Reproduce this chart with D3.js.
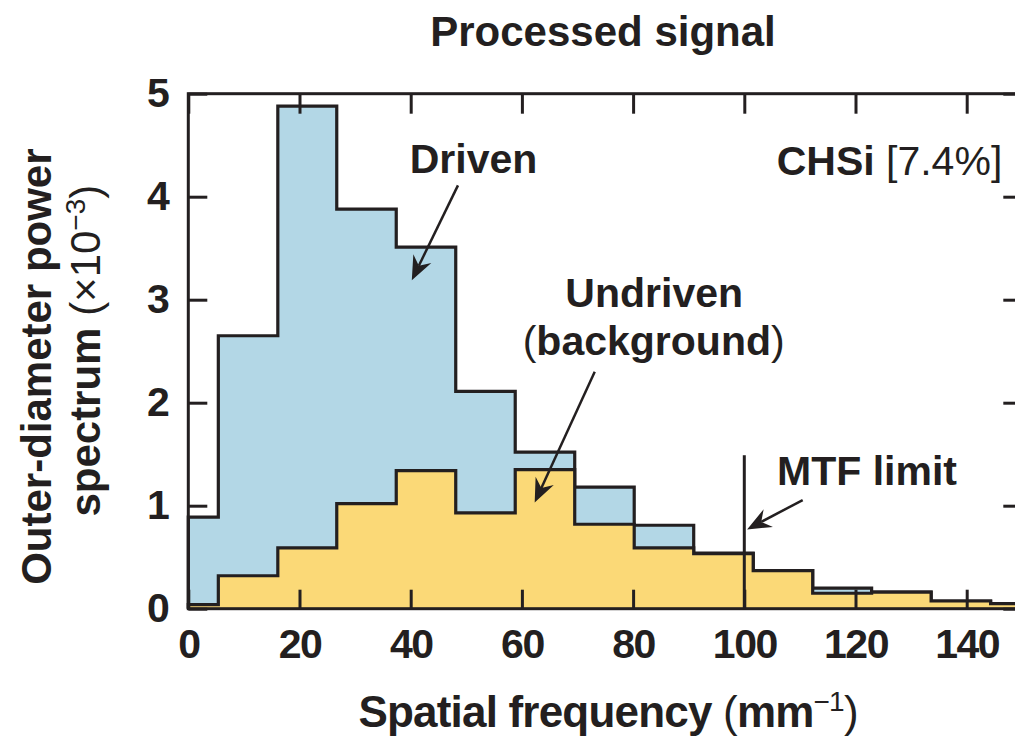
<!DOCTYPE html>
<html>
<head>
<meta charset="utf-8">
<script src="https://cdn.jsdelivr.net/npm/d3@7"></script>
<style>
  body { margin: 0; background: #fff; }
  svg { display: block; }
  text { fill: #231f20; }
</style>
</head>
<body>
<div class="chart"></div>
<script>
// histogram bins (spatial frequency, mm^-1) and the two spectra (x10^-3)
var binEdges = [0, 5.4, 16.1, 26.7, 37.4, 48.1, 58.8, 69.5, 80.2, 90.9, 101.6, 112.3, 122.9, 133.6, 144.3, 150];
var driven   = [0.89, 2.65, 4.88, 3.88, 3.51, 2.11, 1.52, 1.18, 0.81, 0.54, 0.37, 0.20, 0.16, 0.075, 0.05];
var undriven = [0.04, 0.32, 0.59, 1.02, 1.34, 0.93, 1.35, 0.82, 0.59, 0.535, 0.37, 0.15, 0.16, 0.075, 0.05];
var xTicks = [0, 20, 40, 60, 80, 100, 120, 140];
var yTicks = [0, 1, 2, 3, 4, 5];
var mtfLimit = 100;
var mtfTop = 1.49;

var svgWidth = 1015;
var svgHeight = 741;

var margin = { top: 93.7, left: 188.3 };
var plotW = 834;   // 0..150 mm^-1, right edge runs just off the picture
var plotH = 515;

var ink = "#231f20";
var sans = "'Liberation Sans', Arial, Helvetica, sans-serif";

var svg = d3.select(".chart")
  .append("svg")
  .attr("width", svgWidth)
  .attr("height", svgHeight);

var chartGroup = svg.append("g")
  .attr("transform", `translate(${margin.left}, ${margin.top})`);

var x = d3.scaleLinear().domain([0, 150]).range([0, plotW]);
var y = d3.scaleLinear().domain([0, 5]).range([plotH, 0]);

// step points: each bin starts at its left edge, last point closes at the right edge
function stepPoints(vals) {
  var pts = vals.map(function (v, i) { return [binEdges[i], v]; });
  pts.push([binEdges[binEdges.length - 1], vals[vals.length - 1]]);
  return pts;
}

var area = d3.area()
  .curve(d3.curveStepAfter)
  .x(function (d) { return x(d[0]); })
  .y0(y(0))
  .y1(function (d) { return y(d[1]); });

var line = d3.line()
  .curve(d3.curveStepAfter)
  .x(function (d) { return x(d[0]); })
  .y(function (d) { return y(d[1]); });

// Driven (blue)
var dPts = stepPoints(driven);
chartGroup.append("path").attr("d", area(dPts)).attr("fill", "#b3d7e6");
chartGroup.append("path")
  .attr("d", line([[0, 0]].concat(dPts)))
  .attr("fill", "none").attr("stroke", ink).attr("stroke-width", 3.2);

// Undriven (yellow)
var uPts = stepPoints(undriven);
chartGroup.append("path").attr("d", area(uPts)).attr("fill", "#fbd977");
chartGroup.append("path")
  .attr("d", line([[0, 0]].concat(uPts)))
  .attr("fill", "none").attr("stroke", ink).attr("stroke-width", 3.2);

// MTF limit line
chartGroup.append("line")
  .attr("x1", x(mtfLimit)).attr("x2", x(mtfLimit))
  .attr("y1", y(mtfTop)).attr("y2", y(0))
  .attr("stroke", ink).attr("stroke-width", 3);

// axes: inward ticks on all four sides
function styleAxis(g) {
  g.select(".domain").remove();
  g.selectAll(".tick line").attr("stroke", ink).attr("stroke-width", 3);
  g.selectAll(".tick text")
    .attr("fill", ink)
    .style("font-family", sans)
    .style("font-weight", "bold")
    .style("font-size", "41px")
    .style("letter-spacing", "-1.5px");
}

chartGroup.append("g")
  .attr("transform", `translate(0, ${plotH})`)
  .call(d3.axisBottom(x).tickValues(xTicks).tickSize(-19).tickPadding(20).tickFormat(d3.format("d")))
  .call(styleAxis);

chartGroup.append("g")
  .call(d3.axisTop(x).tickValues(xTicks).tickSize(-20).tickFormat(""))
  .call(styleAxis);

chartGroup.append("g")
  .call(d3.axisLeft(y).tickValues(yTicks).tickSize(-19).tickPadding(20).tickFormat(d3.format("d")))
  .call(styleAxis);

chartGroup.append("g")
  .attr("transform", `translate(${x(150)}, 0)`)
  .call(d3.axisRight(y).tickValues(yTicks).tickSize(-19).tickFormat(""))
  .call(styleAxis);

// frame
chartGroup.append("rect")
  .attr("x", x(0)).attr("y", y(5))
  .attr("width", x(150) - x(0)).attr("height", y(0) - y(5))
  .attr("fill", "none").attr("stroke", ink).attr("stroke-width", 3);

// annotations (data units)
function label(xv, yv, anchor) {
  return chartGroup.append("text")
    .attr("x", x(xv)).attr("y", y(yv))
    .attr("text-anchor", anchor)
    .style("font-family", sans)
    .style("font-weight", "bold")
    .style("font-size", "41px");
}

label(51.3, 4.23, "middle").text("Driven");
label(83.8, 2.93, "middle").text("Undriven");
var bg = label(83.7, 2.46, "middle");
bg.append("tspan").style("font-weight", "normal").text("(");
bg.append("tspan").text("background");
bg.append("tspan").style("font-weight", "normal").text(")");
label(105.9, 1.2, "start").text("MTF limit");
var chsi = label(146.4, 4.21, "end");
chsi.append("tspan").text("CHSi ");
chsi.append("tspan").style("font-weight", "normal").text("[7.4%]");

function arrow(x0, y0, x1, y1) {
  var px0 = x(x0), py0 = y(y0), px1 = x(x1), py1 = y(y1);
  var ang = Math.atan2(py1 - py0, px1 - px0);
  var len = 24, half = 10, notch = 16;
  var bx = px1 - len * Math.cos(ang), by = py1 - len * Math.sin(ang);
  var nx = px1 - notch * Math.cos(ang), ny = py1 - notch * Math.sin(ang);
  var ox = -Math.sin(ang) * half, oy = Math.cos(ang) * half;
  chartGroup.append("line")
    .attr("x1", px0).attr("y1", py0).attr("x2", nx).attr("y2", ny)
    .attr("stroke", ink).attr("stroke-width", 2.5);
  chartGroup.append("path")
    .attr("d", `M${px1},${py1} L${bx + ox},${by + oy} L${nx},${ny} L${bx - ox},${by - oy} Z`)
    .attr("fill", ink);
}

arrow(48.5, 4.11, 40.2, 3.19);
arrow(73.1, 2.30, 62.3, 1.03);
arrow(110.5, 1.055, 100.5, 0.77);

// titles
svg.append("text")
  .attr("x", 603).attr("y", 46)
  .attr("text-anchor", "middle")
  .style("font-family", sans).style("font-weight", "bold").style("font-size", "42px")
  .text("Processed signal");

var xt = svg.append("text")
  .attr("x", margin.left + x(75.5)).attr("y", 727)
  .attr("text-anchor", "middle")
  .style("font-family", sans).style("font-weight", "bold").style("font-size", "44px")
  .style("letter-spacing", "-0.8px");
xt.append("tspan").text("Spatial frequency ");
xt.append("tspan").style("font-weight", "normal").text("(");
xt.append("tspan").text("mm");
xt.append("tspan").attr("dy", -16).style("font-size", "28px").style("font-weight", "normal").text("\u22121");
xt.append("tspan").attr("dy", 16).style("font-weight", "normal").text(")");

var yt = svg.append("g")
  .attr("transform", `translate(0, ${margin.top + y(2.35)}) rotate(-90)`);
yt.append("text")
  .attr("x", 0).attr("y", 51)
  .attr("text-anchor", "middle")
  .style("font-family", sans).style("font-weight", "bold").style("font-size", "42px")
  .text("Outer-diameter power");
var y2 = yt.append("text")
  .attr("x", 16).attr("y", 100)
  .attr("text-anchor", "middle")
  .style("font-family", sans).style("font-weight", "bold").style("font-size", "42px");
y2.append("tspan").text("spectrum ");
y2.append("tspan").style("font-weight", "normal").text("(\u00d710");
y2.append("tspan").attr("dy", -15).style("font-size", "28px").style("font-weight", "normal").text("\u22123");
y2.append("tspan").attr("dy", 15).style("font-weight", "normal").text(")");
</script>
</body>
</html>
